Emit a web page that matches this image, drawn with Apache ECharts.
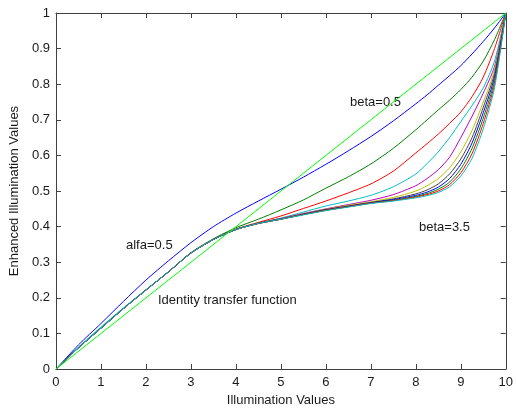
<!DOCTYPE html>
<html>
<head>
<meta charset="utf-8">
<script src="https://cdn.jsdelivr.net/npm/echarts@6/dist/echarts.min.js"></script>
<style>
html,body{margin:0;padding:0;background:#fff;}
#c{width:516px;height:412px;}
</style>
</head>
<body>
<div id="c"></div>
<script>
var xs = [0,0.5,1,1.5,2,2.5,3,3.5,4,4.5,5,5.5,6,6.5,7,7.5,8,8.25,8.5,8.75,9,9.25,9.5,9.75,10];
var identityX = [0, 10];
var identityY = [0, 1];
var xTicks = [0,1,2,3,4,5,6,7,8,9,10];
var yTicks = [0,0.1,0.2,0.3,0.4,0.5,0.6,0.7,0.8,0.9,1];

var beta05 = [0,0.068,0.128,0.19,0.25,0.304,0.355,0.4,0.438,0.472,0.505,0.539,0.575,0.613,0.653,0.697,0.745,0.77,0.797,0.824,0.852,0.885,0.92,0.958,1];
var beta08 = [0,0.06,0.115,0.17,0.222,0.273,0.327,0.366,0.397,0.421,0.447,0.475,0.508,0.54,0.576,0.62,0.672,0.70,0.728,0.755,0.785,0.82,0.865,0.925,1];
var beta11 = [0,0.06,0.115,0.17,0.222,0.273,0.326,0.364,0.393,0.412,0.43,0.451,0.472,0.495,0.52,0.556,0.607,0.633,0.66,0.69,0.722,0.765,0.82,0.9,1];
var beta14 = [0,0.062,0.118,0.172,0.223,0.273,0.326,0.364,0.392,0.41,0.424,0.441,0.458,0.472,0.488,0.512,0.548,0.577,0.61,0.65,0.695,0.74,0.79,0.865,1];
var beta17 = [0,0.06,0.115,0.17,0.222,0.273,0.326,0.364,0.392,0.41,0.423,0.437,0.45,0.462,0.474,0.49,0.515,0.535,0.56,0.595,0.65,0.71,0.775,0.85,1];
var beta20 = [0,0.06,0.115,0.17,0.222,0.273,0.326,0.364,0.392,0.41,0.422,0.436,0.449,0.46,0.47,0.482,0.5,0.515,0.535,0.565,0.61,0.67,0.75,0.84,1];
var beta23 = [0,0.06,0.115,0.17,0.222,0.273,0.326,0.364,0.392,0.41,0.422,0.435,0.448,0.458,0.468,0.478,0.492,0.503,0.52,0.548,0.59,0.65,0.735,0.83,1];
var beta26 = [0,0.06,0.115,0.17,0.222,0.273,0.326,0.364,0.392,0.409,0.421,0.435,0.447,0.457,0.467,0.476,0.488,0.497,0.511,0.535,0.575,0.635,0.72,0.82,1];
var beta29 = [0,0.06,0.115,0.17,0.222,0.273,0.326,0.364,0.392,0.409,0.421,0.434,0.446,0.456,0.466,0.474,0.485,0.493,0.505,0.525,0.562,0.62,0.705,0.81,1];
var beta32 = [0,0.06,0.115,0.17,0.222,0.273,0.326,0.364,0.392,0.409,0.421,0.434,0.446,0.456,0.466,0.473,0.483,0.49,0.5,0.518,0.551,0.605,0.69,0.80,1];
var beta35 = [0,0.06,0.115,0.17,0.222,0.273,0.326,0.364,0.392,0.409,0.421,0.433,0.445,0.455,0.465,0.472,0.481,0.487,0.496,0.512,0.542,0.592,0.675,0.79,1];

var curveNames = ['beta=0.5','beta=0.8','beta=1.1','beta=1.4','beta=1.7','beta=2.0','beta=2.3','beta=2.6','beta=2.9','beta=3.2','beta=3.5'];
var curveValues = [beta05,beta08,beta11,beta14,beta17,beta20,beta23,beta26,beta29,beta32,beta35];
var curveColors = ['#0000ff','#008000','#ff0000','#00bfbf','#bf00bf','#bfbf00','#404040','#0000ff','#008000','#ff0000','#00bfbf'];
var identityColor = '#00ff00';

var FONT = 'Liberation Sans, Arial, sans-serif';
var FS = 13;
var TXT = '#1a1a1a';
var AX = '#404040';

function pairs(xArr, yArr){ return xArr.map(function(x,i){ return [x, yArr[i]]; }); }

var series = curveValues.map(function(vals, i){
  return {
    name: curveNames[i], type: 'line', xAxisIndex: 0, yAxisIndex: 0,
    data: pairs(xs, vals), showSymbol: false, symbol: 'none',
    smooth: 0.25,
    lineStyle: {color: curveColors[i], width: 1}, itemStyle: {color: curveColors[i]},
    animation: false, z: 2
  };
});
series.push({
  name: 'Identity', type: 'line', xAxisIndex: 0, yAxisIndex: 0,
  data: pairs(identityX, identityY), showSymbol: false, symbol: 'none',
  lineStyle: {color: identityColor, width: 1}, itemStyle: {color: identityColor},
  animation: false, z: 2
});

var xMin = xTicks[0], xMax = xTicks[xTicks.length-1];
var yMin = yTicks[0], yMax = yTicks[yTicks.length-1];

function baseX(pos, showLabels){
  return {
    type: 'value', position: pos, min: xMin, max: xMax, interval: 1,
    axisLine: {show: true, onZero: false, lineStyle: {color: AX, width: 1}},
    axisTick: {show: true, inside: true, length: 5, lineStyle: {color: AX}},
    axisLabel: {show: showLabels, color: TXT, fontFamily: FONT, fontSize: FS, margin: 7},
    splitLine: {show: false}
  };
}
function baseY(pos, showLabels){
  return {
    type: 'value', position: pos, min: yMin, max: yMax, interval: 0.1,
    axisLine: {show: true, onZero: false, lineStyle: {color: AX, width: 1}},
    axisTick: {show: true, inside: true, length: 5, lineStyle: {color: AX}},
    axisLabel: {show: showLabels, color: TXT, fontFamily: FONT, fontSize: FS, margin: 6,
      formatter: function(v){ return String(Math.round(v*10)/10); }},
    splitLine: {show: false}
  };
}
var xa0 = baseX('bottom', true);
xa0.name = 'Illumination Values'; xa0.nameLocation = 'middle'; xa0.nameGap = 24;
xa0.nameTextStyle = {color: TXT, fontFamily: FONT, fontSize: FS};
var xa1 = baseX('top', false);
var ya0 = baseY('left', true);
ya0.name = 'Enhanced Illumination Values'; ya0.nameLocation = 'middle'; ya0.nameGap = 34;
ya0.nameTextStyle = {color: TXT, fontFamily: FONT, fontSize: FS};
var ya1 = baseY('right', false);

var chart = echarts.init(document.getElementById('c'), null, {renderer: 'canvas'});
chart.setOption({
  animation: false,
  backgroundColor: '#ffffff',
  grid: {left: 54, right: 5, top: 13, bottom: 39, containLabel: false},
  xAxis: [xa0, xa1],
  yAxis: [ya0, ya1],
  series: series,
  graphic: [
    {type: 'text', left: 350, top: 96, style: {text: 'beta=0.5', fill: TXT, font: FS + 'px ' + FONT}},
    {type: 'text', left: 419, top: 221, style: {text: 'beta=3.5', fill: TXT, font: FS + 'px ' + FONT}},
    {type: 'text', left: 126, top: 239, style: {text: 'alfa=0.5', fill: TXT, font: FS + 'px ' + FONT}},
    {type: 'text', left: 158, top: 294, style: {text: 'Identity transfer function', fill: TXT, font: FS + 'px ' + FONT}}
  ]
});
</script>
</body>
</html>
